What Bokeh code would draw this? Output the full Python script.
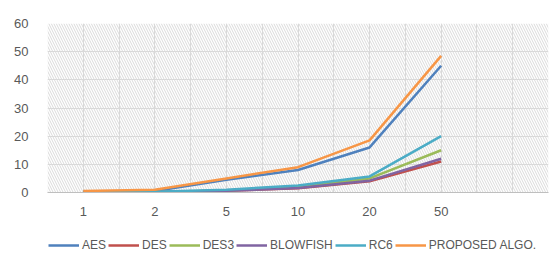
from bokeh.plotting import figure
from bokeh.layouts import column
from bokeh.models import Range1d, FixedTicker, BoxAnnotation, Legend, LegendItem
from bokeh.embed import file_html
from bokeh.resources import INLINE

categories = ["1", "2", "5", "10", "20", "50"]
aes = [0.3, 0.5, 4.5, 8.0, 16.0, 45.0]
des = [0.1, 0.2, 0.6, 1.5, 4.0, 11.0]
des3 = [0.1, 0.2, 0.7, 2.0, 5.0, 15.0]
blowfish = [0.1, 0.2, 0.6, 1.6, 4.2, 12.0]
rc6 = [0.2, 0.3, 1.0, 2.5, 5.7, 20.0]
proposed = [0.5, 1.0, 5.0, 9.0, 18.5, 48.5]

series = [
    ("AES", aes, "#4F81BD"),
    ("DES", des, "#C0504D"),
    ("DES3", des3, "#9BBB59"),
    ("BLOWFISH", blowfish, "#8064A2"),
    ("RC6", rc6, "#4BACC6"),
    ("PROPOSED ALGO.", proposed, "#F79646"),
]

n_slots = len(categories) + 1
x = list(range(len(categories)))

p = figure(width=550, height=223, output_backend="svg", toolbar_location=None,
           x_range=Range1d(-0.5, n_slots - 0.5), y_range=Range1d(0, 60),
           min_border_left=47, min_border_right=2, min_border_top=23, min_border_bottom=31)
p.outline_line_color = None
p.background_fill_color = "white"
p.border_fill_color = "white"

hatch = BoxAnnotation(level="image", fill_alpha=0, line_alpha=0,
                      hatch_pattern="\\", hatch_color="#d0d0d0", hatch_scale=5, hatch_weight=0.8)
p.add_layout(hatch)

p.xgrid.ticker = FixedTicker(ticks=[i * 0.5 - 0.5 for i in range(2 * n_slots + 1)])
p.ygrid.ticker = FixedTicker(ticks=list(range(0, 61, 10)))
p.xgrid.grid_line_color = "#d9d9d9"
p.ygrid.grid_line_color = "#d9d9d9"

p.xaxis.ticker = FixedTicker(ticks=x)
p.xaxis.major_label_overrides = {i: c for i, c in enumerate(categories)}
p.yaxis.ticker = FixedTicker(ticks=list(range(0, 61, 10)))
for ax in (p.xaxis, p.yaxis):
    ax.major_tick_line_color = None
    ax.minor_tick_line_color = None
    ax.major_label_text_color = "#595959"
    ax.major_label_text_font = "Liberation Sans"
    ax.major_label_text_font_size = "13px"
p.yaxis.axis_line_color = None
p.xaxis.axis_line_color = "#bfbfbf"
p.xaxis.major_label_standoff = 8
p.yaxis.major_label_standoff = 13

for name, vals, col in series:
    p.line(x, vals, line_color=col, line_width=2.5)

# legend strip below the chart (proxy lines kept outside its visible range)
lg = figure(width=550, height=32, output_backend="svg", toolbar_location=None,
            x_range=Range1d(0, 1), y_range=Range1d(1000, 1001),
            min_border_left=0, min_border_right=0, min_border_top=0, min_border_bottom=0)
lg.outline_line_color = None
lg.axis.visible = False
lg.grid.visible = False
lg.border_fill_color = "white"
items = []
for name, vals, col in series:
    r = lg.line(x, vals, line_color=col, line_width=2.5)
    items.append(LegendItem(label=name, renderers=[r]))
legend = Legend(items=items, orientation="horizontal", location=(1, 0),
                glyph_width=31, label_standoff=3, spacing=2, padding=1, margin=0,
                border_line_color=None, background_fill_alpha=0,
                label_text_font="Liberation Sans", label_text_font_size="12px",
                label_text_color="#595959")
lg.add_layout(legend)

layout = column(p, lg, spacing=0)
open("out.html", "w").write(file_html(layout, INLINE))
